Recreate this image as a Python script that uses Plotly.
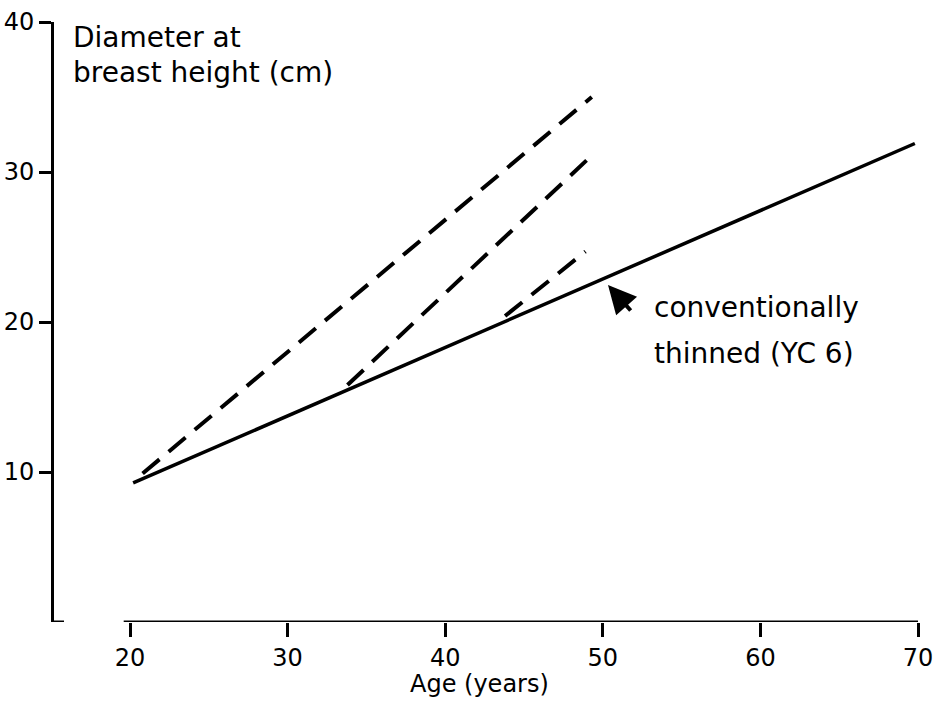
import plotly.graph_objects as go

# Data (age in years, diameter at breast height in cm)
conv_age = [20.2, 69.8]
conv_dbh = [9.27, 31.9]

dash1_age = [20.8, 49.3]
dash1_dbh = [9.9, 35.0]
dash2_age = [33.8, 49.3]
dash2_dbh = [15.8, 31.1]
dash3_age = [43.8, 48.9]
dash3_dbh = [20.4, 24.7]

x_ticks = [20, 30, 40, 50, 60, 70]
y_ticks = [10, 20, 30, 40]

FONT = "DejaVu Sans"
BLACK = "#000000"

fig = go.Figure()
fig.add_trace(go.Scatter(x=conv_age, y=conv_dbh, mode="lines",
                         line=dict(color=BLACK, width=3.5), showlegend=False))
for xa, ya in [(dash1_age, dash1_dbh), (dash2_age, dash2_dbh), (dash3_age, dash3_dbh)]:
    fig.add_trace(go.Scatter(x=xa, y=ya, mode="lines",
                             line=dict(color=BLACK, width=4, dash="22px,12px"),
                             showlegend=False))

W, H = 944, 701
L, R, T, B = 54, 26, 22, 79
pw = W - L - R
ph = H - T - B
px_per_year = (918 - 130) / 50.0
x0 = 20 - (130 - L) / px_per_year

fig.update_layout(
    template="none",
    width=W, height=H,
    margin=dict(l=L, r=R, t=T, b=B, pad=0, autoexpand=False),
    paper_bgcolor="white", plot_bgcolor="white",
    font=dict(family=FONT, color=BLACK, size=23),
    xaxis=dict(range=[x0, 70], tickvals=x_ticks, ticktext=[str(v) for v in x_ticks],
               automargin=False,
               showgrid=False, zeroline=False, showline=False,
               ticks="outside", ticklen=14, tickwidth=3, tickcolor=BLACK,
               tickfont=dict(family=FONT, size=24, color=BLACK)),
    yaxis=dict(range=[0, 40], tickvals=y_ticks, ticktext=[str(v) for v in y_ticks],
               automargin=False,
               showgrid=False, zeroline=False, showline=True, linewidth=3, linecolor=BLACK,
               ticks="outside", ticklen=12, tickwidth=3, tickcolor=BLACK,
               tickfont=dict(family=FONT, size=24, color=BLACK)),
    shapes=[
        dict(type="line", xref="x", yref="y", x0=19.6, x1=70, y0=0, y1=0,
             line=dict(color=BLACK, width=3)),
        dict(type="line", xref="paper", yref="y", x0=0, x1=10 / pw, y0=0, y1=0,
             line=dict(color=BLACK, width=3)),
    ],
)

def ypx(p):
    return 1 - (p - T) / ph

def xpx(p):
    return (p - L) / pw

ann = [
    dict(text="Diameter at", x=xpx(71), y=ypx(37), xanchor="left", yanchor="middle", size=28),
    dict(text="breast height (cm)", x=xpx(71), y=ypx(73), xanchor="left", yanchor="middle", size=28),
    dict(text="conventionally", x=xpx(652), y=ypx(307), xanchor="left", yanchor="middle", size=28),
    dict(text="thinned (YC 6)", x=xpx(652), y=ypx(353), xanchor="left", yanchor="middle", size=28),
    dict(text="Age (years)", x=xpx(479), y=ypx(684), xanchor="center", yanchor="middle", size=24),
]
for a in ann:
    size = a.pop("size")
    fig.add_annotation(xref="paper", yref="paper", showarrow=False,
                       font=dict(family=FONT, size=size, color=BLACK), **a)

# arrow pointing to the conventionally thinned line
fig.add_annotation(xref="x", yref="y", x=20 + (608 - 130) / px_per_year, y=(622 - 285) / 15.0,
                   text="", showarrow=True, ax=24, ay=27, arrowhead=2, arrowsize=1.4,
                   arrowwidth=4, arrowcolor=BLACK, standoff=0)

fig.write_html("out.html")
